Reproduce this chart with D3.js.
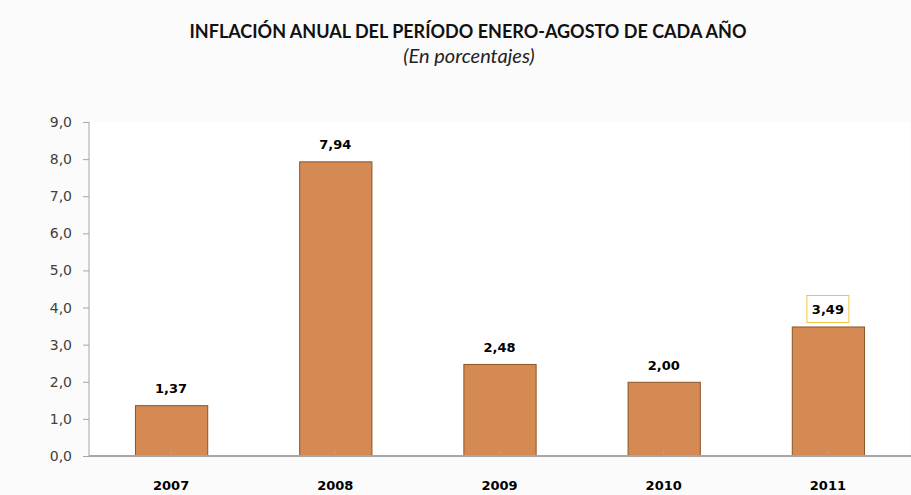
<html>
<head>
<meta charset="utf-8" />
<title>Inflación anual</title>
<script src="https://d3js.org/d3.v7.min.js"></script>
<style>
    body { margin: 0px; background: #fbfbfb; }
    .domain { stroke: #a6a6a6; }
    .tick line { stroke: #a6a6a6; }
    .ytick text { fill: #404040; font-size: 14px; font-family: "DejaVu Sans", Verdana, sans-serif; }
    .xtick text { fill: #000; font-size: 13px; font-weight: bold; font-family: "DejaVu Sans", Verdana, sans-serif; }
</style>
</head>
<body>
<script>
// data
var years = ["2007", "2008", "2009", "2010", "2011"];
var inflation = [1.37, 7.94, 2.48, 2.00, 3.49];
var labels = ["1,37", "7,94", "2,48", "2,00", "3,49"];
var yTicks = [0, 1, 2, 3, 4, 5, 6, 7, 8, 9];

var width = 911, height = 495;
var margin = {top: 122, right: 1, bottom: 39, left: 89};

var svg = d3.select("body").append("svg")
    .attr("width", width)
    .attr("height", height);

svg.append("rect")
    .attr("width", width).attr("height", height)
    .attr("fill", "#fbfbfb");

// plot area
svg.append("rect")
    .attr("x", margin.left).attr("y", margin.top)
    .attr("width", width - margin.left - margin.right)
    .attr("height", height - margin.top - margin.bottom)
    .attr("fill", "#ffffff");

// title
svg.append("text")
    .attr("x", 468).attr("y", 38)
    .attr("text-anchor", "middle")
    .style("font-family", "Lato, 'Open Sans', sans-serif")
    .style("font-weight", "bold")
    .style("font-size", "18px")
    .style("fill", "#111")
    .text("INFLACIÓN ANUAL DEL PERÍODO ENERO-AGOSTO DE CADA AÑO");

svg.append("text")
    .attr("x", 469).attr("y", 63)
    .attr("text-anchor", "middle")
    .style("font-family", "Lato, 'Open Sans', sans-serif")
    .style("font-style", "italic")
    .style("font-size", "20px")
    .style("fill", "#222")
    .text("(En porcentajes)");

var x = d3.scaleBand()
    .domain(years)
    .range([margin.left, width - margin.right])
    .paddingInner(0.56)
    .paddingOuter(0.28);

var y = d3.scaleLinear()
    .domain([0, 9])
    .range([height - margin.bottom, margin.top]);

// y axis
svg.append("g")
    .attr("class", "ytick")
    .attr("transform", "translate(" + margin.left + ",0)")
    .call(d3.axisLeft(y).tickValues(yTicks).tickSize(6).tickPadding(11)
        .tickFormat(d => d.toFixed(1).replace(".", ",")))
    .call(g => g.select(".domain").attr("d", "M0," + y(9) + "V" + y(0)));

// bars
svg.append("g")
    .selectAll("rect")
    .data(inflation)
    .enter()
    .append("rect")
        .attr("x", (d, i) => x(years[i]) + 0.5)
        .attr("y", d => y(d) + 0.5)
        .attr("width", x.bandwidth())
        .attr("height", d => y(0) - y(d))
        .style("fill", "#d58a53")
        .style("stroke", "#8a5527")
        .style("stroke-width", 1);

// x axis, small inward ticks at centres
var xAxis = svg.append("g")
    .attr("class", "xtick")
    .attr("transform", "translate(0," + y(0) + ")")
    .call(d3.axisBottom(x).tickSize(0).tickPadding(25))
    .call(g => g.select(".domain").attr("d", "M" + margin.left + ",0H" + width).style("stroke-width", 2));
xAxis.selectAll(".tick line").attr("y2", -5).attr("x1", 0).attr("x2", 0).style("stroke-width", 1);

// value labels
var lab = svg.append("g")
    .selectAll("g")
    .data(inflation)
    .enter()
    .append("g");

lab.filter((d, i) => i == 4)
    .append("rect")
    .attr("x", x(years[4]) + x.bandwidth() / 2 - 21)
    .attr("y", d => y(d) - 31)
    .attr("width", 42)
    .attr("height", 27)
    .style("fill", "#fff")
    .style("stroke", "#f5c342")
    .style("stroke-width", 1);

lab.append("text")
    .attr("x", (d, i) => x(years[i]) + x.bandwidth() / 2)
    .attr("y", d => y(d) - 12)
    .attr("text-anchor", "middle")
    .style("font-family", "'DejaVu Sans', Verdana, sans-serif")
    .style("font-weight", "bold")
    .style("font-size", "13px")
    .style("fill", "#000")
    .text((d, i) => labels[i]);
</script>
</body>
</html>
